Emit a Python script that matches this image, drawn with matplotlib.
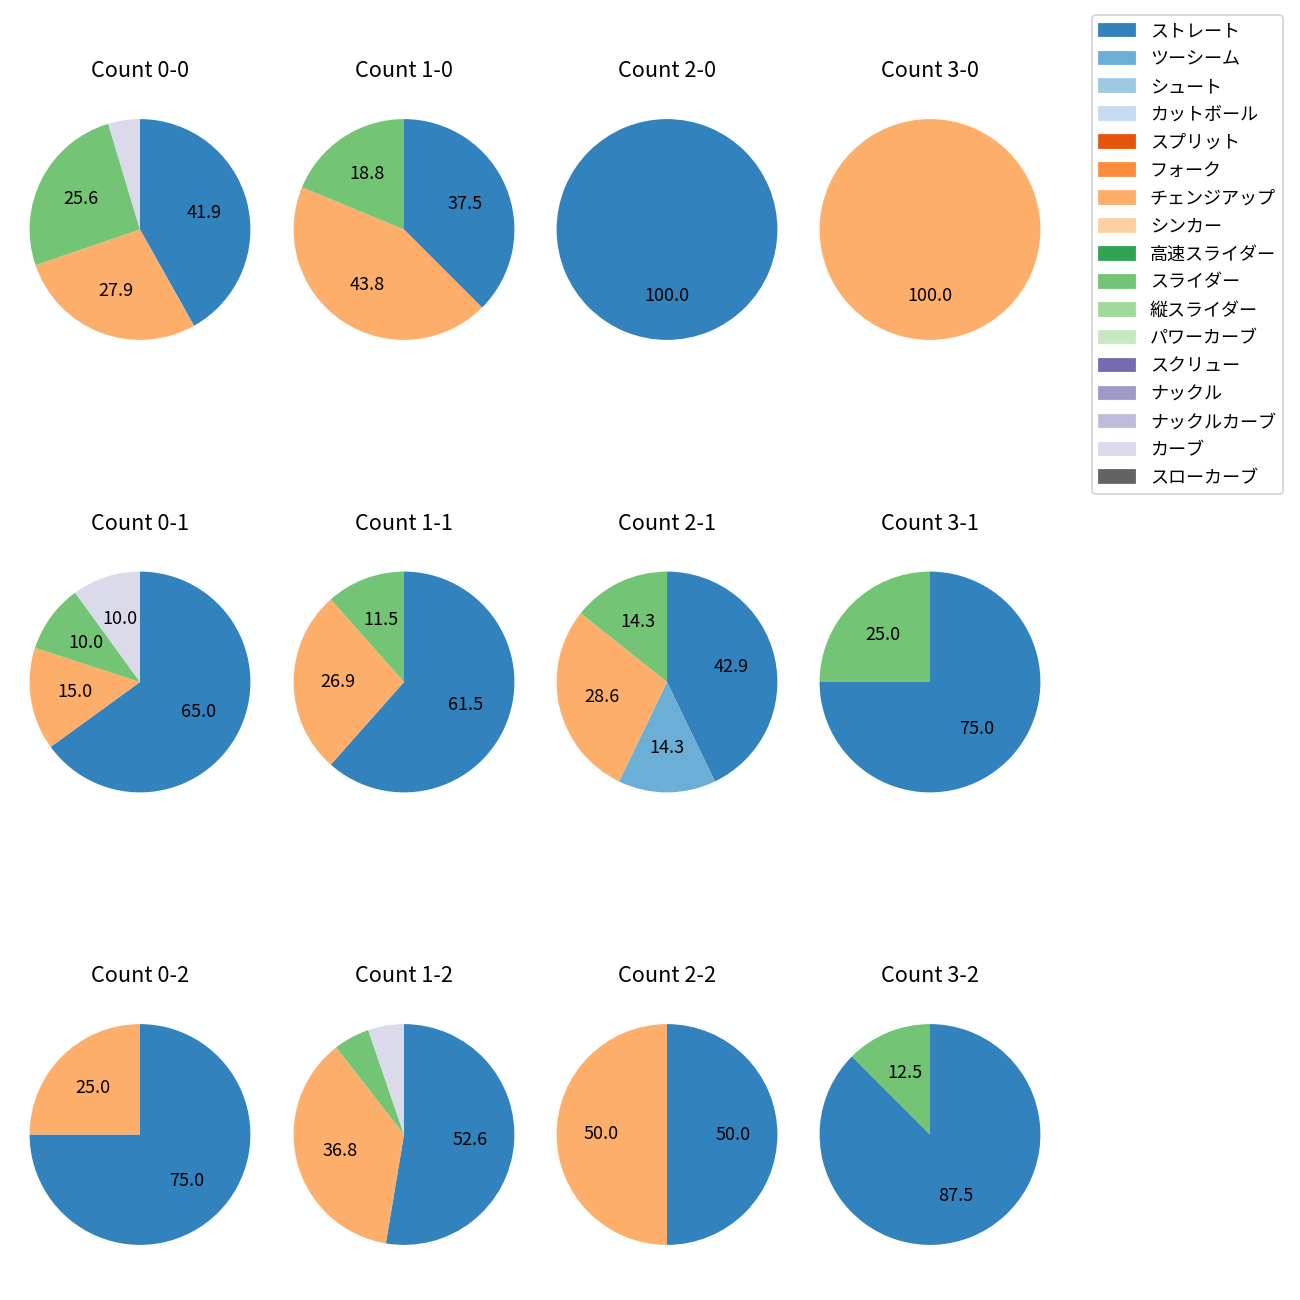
import matplotlib

matplotlib.use("Agg")

import matplotlib.pyplot as plt
from matplotlib.patches import Patch

plt.rcParams["font.family"] = ["Noto Sans CJK JP", "DejaVu Sans"]

# 球種（凡例の順番）
pitch_types = [
    "ストレート", "ツーシーム", "シュート", "カットボール", "スプリット",
    "フォーク", "チェンジアップ", "シンカー", "高速スライダー", "スライダー",
    "縦スライダー", "パワーカーブ", "スクリュー", "ナックル", "ナックルカーブ",
    "カーブ", "スローカーブ",
]

# カウント別の投球数
count_0_0 = {"ストレート": 18, "チェンジアップ": 12, "スライダー": 11, "カーブ": 2}
count_1_0 = {"ストレート": 6, "チェンジアップ": 7, "スライダー": 3}
count_2_0 = {"ストレート": 1}
count_3_0 = {"チェンジアップ": 1}
count_0_1 = {"ストレート": 13, "チェンジアップ": 3, "スライダー": 2, "カーブ": 2}
count_1_1 = {"ストレート": 16, "チェンジアップ": 7, "スライダー": 3}
count_2_1 = {"ストレート": 3, "ツーシーム": 1, "チェンジアップ": 2, "スライダー": 1}
count_3_1 = {"ストレート": 3, "スライダー": 1}
count_0_2 = {"ストレート": 3, "チェンジアップ": 1}
count_1_2 = {"ストレート": 10, "チェンジアップ": 7, "スライダー": 1, "カーブ": 1}
count_2_2 = {"ストレート": 1, "チェンジアップ": 1}
count_3_2 = {"ストレート": 7, "スライダー": 1}

panels = [
    ["Count 0-0", "Count 1-0", "Count 2-0", "Count 3-0"],
    ["Count 0-1", "Count 1-1", "Count 2-1", "Count 3-1"],
    ["Count 0-2", "Count 1-2", "Count 2-2", "Count 3-2"],
]
panel_data = [
    [count_0_0, count_1_0, count_2_0, count_3_0],
    [count_0_1, count_1_1, count_2_1, count_3_1],
    [count_0_2, count_1_2, count_2_2, count_3_2],
]

cmap = plt.get_cmap("tab20c")
colors = {p: cmap(i) for i, p in enumerate(pitch_types)}

W = H = 1300  # px
fig = plt.figure(figsize=(10, 10), dpi=130)

# 各パイの中心（px）と描画枠の大きさ
centers_x = [140, 404, 667, 930]
centers_y = [229.5, 682, 1134.5]
box = 276


def autopct(p):
    # 小さいスライスには数値を出さない
    return f"{p:.1f}" if p >= 8 else ""


for r, row in enumerate(panels):
    for c, title in enumerate(row):
        cx, cy = centers_x[c], centers_y[r]
        ax = fig.add_axes([(cx - box / 2) / W, 1 - (cy + box / 2) / H, box / W, box / H])
        d = panel_data[r][c]
        names = [p for p in pitch_types if d.get(p, 0) > 0]
        vals = [d[p] for p in names]
        ax.pie(vals, colors=[colors[p] for p in names], startangle=90,
               counterclock=False, autopct=autopct)
        ax.set_title(title, pad=8)

handles = [Patch(color=colors[p], label=p) for p in pitch_types]
fig.legend(handles=handles, loc="upper right", bbox_to_anchor=(1283 / W, 1 - 15 / H),
           borderaxespad=0, labelspacing=0.55)

fig.savefig("out.png")
